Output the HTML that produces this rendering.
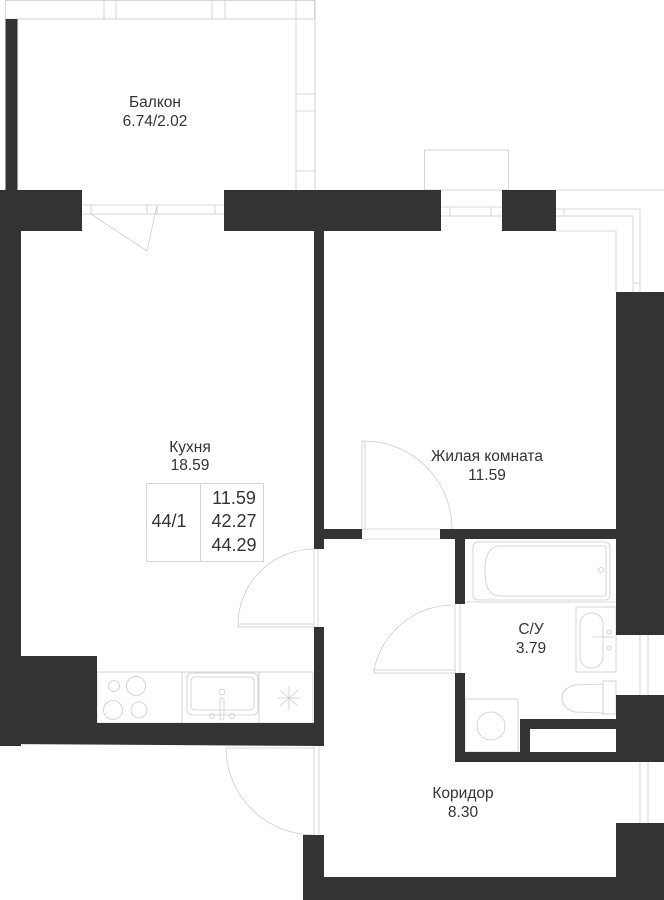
<!DOCTYPE html>
<html><head><meta charset="utf-8"><style>
html,body{margin:0;padding:0;background:#fff;}
svg{display:block;}
text{font-family:"Liberation Sans",sans-serif;fill:#333;text-anchor:middle;}
</style></head><body>
<svg width="664" height="900" viewBox="0 0 664 900" xmlns="http://www.w3.org/2000/svg">
<g fill="none" stroke="#ccc" stroke-width="0.8">
<rect x="5.5" y="0.5" width="309" height="18.5"/>
<line x1="104" y1="0" x2="104" y2="19"/><line x1="116" y1="0" x2="116" y2="19"/>
<line x1="212" y1="0" x2="212" y2="19"/><line x1="225" y1="0" x2="225" y2="19"/>
<line x1="296" y1="0" x2="296" y2="190"/><line x1="315" y1="0" x2="315" y2="190"/>
<line x1="296" y1="94" x2="315" y2="94"/><line x1="296" y1="111" x2="315" y2="111"/><line x1="296" y1="171" x2="315" y2="171"/>
<rect x="424.5" y="150" width="84" height="40"/>
<line x1="82" y1="205" x2="224" y2="205"/><line x1="82" y1="214" x2="224" y2="214"/>
<line x1="91" y1="205" x2="91" y2="214"/><line x1="147" y1="205" x2="147" y2="214"/><line x1="157" y1="205" x2="157" y2="214"/><line x1="215" y1="205" x2="215" y2="214"/>
<polyline points="91,214 147,251 157,205"/>
<line x1="441" y1="207" x2="502" y2="207"/><line x1="441" y1="216" x2="502" y2="216"/>
<line x1="450" y1="207" x2="450" y2="216"/><line x1="491" y1="207" x2="491" y2="216"/>
<polyline points="556,190 664,190"/>
<polyline points="556,209 640,209 640,292"/>
<polyline points="556,216 633,216 633,292"/>
<polyline points="556,231 616,231 616,292"/>
<line x1="564" y1="209" x2="564" y2="216"/><line x1="633" y1="283" x2="640" y2="283"/>
<line x1="640" y1="635" x2="640" y2="695"/><line x1="648" y1="635" x2="648" y2="695"/>
<line x1="640" y1="762" x2="640" y2="823"/><line x1="648" y1="762" x2="648" y2="823"/>
<rect x="146.5" y="483.5" width="117" height="78"/>
<line x1="200.5" y1="483" x2="200.5" y2="561"/>
<line x1="314" y1="549" x2="314" y2="627"/><line x1="318" y1="549" x2="318" y2="627"/>
<rect x="238" y="624" width="76" height="3"/>
<path d="M238,624 A76,76 0 0 1 314,549"/>
<line x1="362" y1="529" x2="440" y2="529"/><line x1="362" y1="539" x2="440" y2="539"/>
<rect x="362" y="441" width="3" height="88"/>
<path d="M365,441 A88,88 0 0 1 452,529"/>
<line x1="455" y1="604" x2="455" y2="673"/><line x1="460" y1="604" x2="460" y2="673"/>
<rect x="374" y="670" width="81" height="3"/>
<path d="M374,670 A81,81 0 0 1 452,605"/>
<line x1="314" y1="746" x2="314" y2="835"/><line x1="319" y1="746" x2="319" y2="835"/>
<line x1="226" y1="748" x2="314" y2="748"/>
<path d="M226,748 A88,88 0 0 0 314,835"/>
<rect x="97" y="672" width="216" height="51"/>
<line x1="182" y1="672" x2="182" y2="723"/><line x1="259" y1="672" x2="259" y2="723"/>
<circle cx="114" cy="686" r="5.5"/><circle cx="136" cy="686" r="9.5"/>
<circle cx="113" cy="710" r="9.5"/><circle cx="139" cy="710" r="8"/>
<rect x="187" y="673" width="71" height="42" rx="5"/>
<rect x="191" y="677" width="63" height="33" rx="4"/>
<circle cx="222" cy="692" r="3"/><rect x="220" y="698" width="4" height="22" rx="2"/>
<circle cx="212" cy="716" r="2.5"/><circle cx="232" cy="716" r="2.5"/>
<path d="M280,690 L298,706 M298,690 L280,706 M289,686 L289,710 M278,698 L300,698"/>
<rect x="473" y="542" width="137" height="58" rx="5"/>
<path d="M500,546 L606,546 L606,596 L500,596 Q485,596 485,571 Q485,546 500,546 Z"/>
<circle cx="601" cy="570" r="2.5"/>
<line x1="465" y1="602" x2="616" y2="602"/>
<rect x="576" y="607" width="40" height="65"/>
<rect x="580" y="613" width="23" height="55" rx="11"/>
<line x1="593" y1="637" x2="614" y2="637"/>
<circle cx="609" cy="632" r="2"/><circle cx="609" cy="648" r="2"/>
<rect x="603" y="681" width="13" height="33"/>
<path d="M603,684 L575,685 Q562,688 562,698 Q562,708 575,712 L603,713"/>
<rect x="465" y="699" width="53" height="53"/>
<circle cx="491" cy="726" r="14"/>
</g>
<g fill="#333">
<rect x="5.5" y="19" width="12" height="171"/>
<rect x="0" y="190" width="82" height="41"/>
<rect x="0" y="190" width="21" height="556"/>
<rect x="224" y="190" width="217" height="41"/>
<rect x="502" y="190" width="54" height="41"/>
<rect x="314" y="231" width="10" height="318"/>
<rect x="314" y="627" width="10" height="119"/>
<rect x="0" y="656" width="97" height="67"/>
<polygon points="0,723 324,723 324,746 0,744"/>
<rect x="314" y="529" width="48" height="10"/>
<rect x="440" y="529" width="176" height="10"/>
<rect x="616" y="292" width="48" height="343"/>
<rect x="616" y="695" width="48" height="67"/>
<rect x="616" y="823" width="48" height="77"/>
<rect x="455" y="539" width="10" height="65"/>
<rect x="455" y="673" width="10" height="89"/>
<rect x="455" y="752" width="161" height="10"/>
<rect x="520" y="719" width="10" height="33"/>
<rect x="520" y="719" width="96" height="10"/>
<rect x="303" y="835" width="21" height="65"/>
<rect x="303" y="877" width="361" height="23"/>
</g>
<g font-size="15.5">
<text x="155" y="107">Балкон</text>
<text x="155" y="126">6.74/2.02</text>
<text x="190" y="452">Кухня</text>
<text x="190" y="470">18.59</text>
<text x="487" y="461">Жилая комната</text>
<text x="487" y="480">11.59</text>
<text x="531" y="634">С/У</text>
<text x="531" y="653">3.79</text>
<text x="463" y="798">Коридор</text>
<text x="463" y="817">8.30</text>
</g>
<g font-size="18">
<text x="169" y="527">44/1</text>
<text x="234" y="504">11.59</text>
<text x="234" y="527">42.27</text>
<text x="234" y="551">44.29</text>
</g>
</svg>
</body></html>
